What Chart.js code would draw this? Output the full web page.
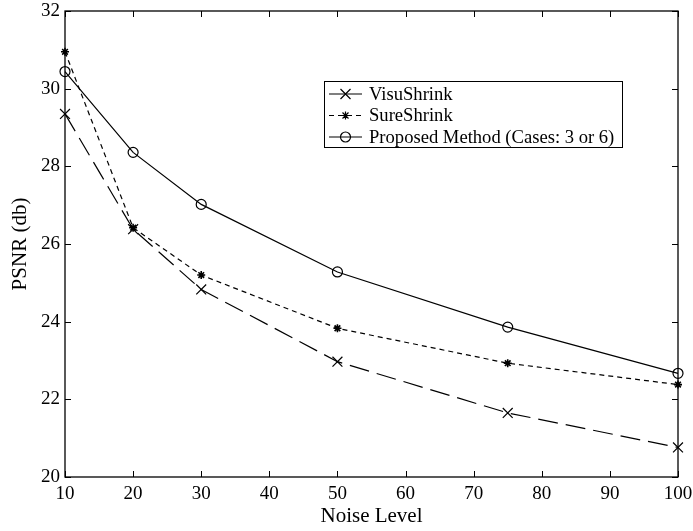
<!DOCTYPE html>
<html>
<head>
<meta charset="utf-8">
<script src="https://cdn.jsdelivr.net/npm/chart.js@4.4.0/dist/chart.umd.min.js"></script>
<style>
  html, body { margin: 0; padding: 0; background: #fff; }
</style>
</head>
<body>
<canvas id="myChart" width="693" height="531"></canvas>
<script>
// du lieu doc tu hinh
const noiseLevels = [10, 20, 30, 50, 75, 100];
const visuShrink = [29.35, 26.38, 24.83, 22.97, 21.65, 20.76];
const sureShrink = [30.95, 26.42, 25.20, 23.83, 22.93, 22.38];
const proposed = [30.44, 28.36, 27.02, 25.28, 23.86, 22.67];
const xTicks = [10, 20, 30, 40, 50, 60, 70, 80, 90, 100];
const yTicks = [20, 22, 24, 26, 28, 30, 32];
const seriesNames = ['VisuShrink', 'SureShrink', 'Proposed Method (Cases: 3 or 6)'];

const FONT = '"Liberation Serif", "Times New Roman", serif';

const toPoints = (ys) => noiseLevels.map((x, i) => ({ x: x, y: ys[i] }));

// ve marker cho legend
const drawMarker = (ctx, style, x, y) => {
    ctx.beginPath();
    if (style === 'crossRot') {
        ctx.moveTo(x - 5, y - 5); ctx.lineTo(x + 5, y + 5);
        ctx.moveTo(x - 5, y + 5); ctx.lineTo(x + 5, y - 5);
    } else if (style === 'star') {
        ctx.moveTo(x - 4, y); ctx.lineTo(x + 4, y);
        ctx.moveTo(x, y - 4); ctx.lineTo(x, y + 4);
        ctx.moveTo(x - 3, y - 3); ctx.lineTo(x + 3, y + 3);
        ctx.moveTo(x - 3, y + 3); ctx.lineTo(x + 3, y - 3);
    } else {
        ctx.arc(x, y, 5, 0, Math.PI * 2);
    }
    ctx.stroke();
};

// khung, vach chia huong vao trong va legend
const boxPlugin = {
    id: 'boxPlugin',
    afterDatasetsDraw(chart) {
        const ctx = chart.ctx;
        const a = chart.chartArea;
        const xs = chart.scales.x, ys = chart.scales.y;
        ctx.save();
        ctx.strokeStyle = '#000';
        ctx.lineWidth = 1.3;
        ctx.strokeRect(a.left, a.top, a.right - a.left, a.bottom - a.top);
        ctx.lineWidth = 1;
        ctx.beginPath();
        xTicks.forEach(v => {
            const px = Math.round(xs.getPixelForValue(v)) + 0.5;
            ctx.moveTo(px, a.bottom); ctx.lineTo(px, a.bottom - 6);
            ctx.moveTo(px, a.top); ctx.lineTo(px, a.top + 6);
        });
        yTicks.forEach(v => {
            const py = Math.round(ys.getPixelForValue(v)) + 0.5;
            ctx.moveTo(a.left, py); ctx.lineTo(a.left + 6, py);
            ctx.moveTo(a.right, py); ctx.lineTo(a.right - 6, py);
        });
        ctx.stroke();

        // legend
        const lx = 324, ly = 81, lw = 298, lh = 66;
        ctx.fillStyle = '#fff';
        ctx.fillRect(lx, ly, lw, lh);
        ctx.lineWidth = 1;
        ctx.strokeRect(lx + 0.5, ly + 0.5, lw, lh);
        const rows = [94, 115.5, 137];
        ctx.font = '18.6px ' + FONT;
        ctx.textBaseline = 'middle';
        chart.data.datasets.forEach((ds, i) => {
            const y = rows[i];
            ctx.strokeStyle = '#000';
            ctx.lineWidth = 1.2;
            const dash = ds.borderDash || [];
            ctx.setLineDash(dash.length && dash[0] < 15 ? dash : []);
            ctx.beginPath();
            ctx.moveTo(329, y); ctx.lineTo(362, y);
            ctx.stroke();
            ctx.setLineDash([]);
            drawMarker(ctx, ds.pointStyle, 345.5, y);
            ctx.fillStyle = '#000';
            ctx.fillText(ds.label, 369, y + 1);
        });
        ctx.restore();
    }
};

const config = {
    type: 'line',
    data: {
        datasets: [
            {
                label: seriesNames[0],
                data: toPoints(visuShrink),
                borderColor: '#000',
                borderWidth: 1.2,
                borderDash: [20, 8],
                pointStyle: 'crossRot',
                pointRadius: 7,
                pointBorderWidth: 1.2,
                pointBorderColor: '#000',
                backgroundColor: '#000',
                tension: 0
            },
            {
                label: seriesNames[1],
                data: toPoints(sureShrink),
                borderColor: '#000',
                borderWidth: 1.2,
                borderDash: [5, 4],
                pointStyle: 'star',
                pointRadius: 4,
                pointBorderWidth: 1.6,
                pointBorderColor: '#000',
                backgroundColor: '#000',
                tension: 0
            },
            {
                label: seriesNames[2],
                data: toPoints(proposed),
                borderColor: '#000',
                borderWidth: 1.2,
                pointStyle: 'circle',
                pointRadius: 5,
                pointBorderWidth: 1.2,
                pointBorderColor: '#000',
                pointBackgroundColor: 'rgba(255,255,255,0)',
                tension: 0
            }
        ]
    },
    options: {
        responsive: false,
        animation: false,
        devicePixelRatio: 1,
        clip: false,
        layout: { padding: { top: 11, right: 15, left: 0, bottom: 0 } },
        plugins: {
            legend: { display: false },
            tooltip: { enabled: false }
        },
        scales: {
            x: {
                type: 'linear',
                min: 10,
                max: 100,
                afterBuildTicks: (s) => { s.ticks = xTicks.map(v => ({ value: v })); },
                afterFit: (s) => { s.height = 54; s.paddingLeft = 0; s.paddingRight = 0; },
                grid: { display: false, drawTicks: false },
                border: { display: false },
                ticks: { color: '#000', font: { family: FONT, size: 19, lineHeight: 1 }, padding: 8, maxRotation: 0 },
                title: { display: true, text: 'Noise Level', color: '#000', font: { family: FONT, size: 21 }, padding: { top: 0, bottom: 2 } }
            },
            y: {
                min: 20,
                max: 32,
                afterBuildTicks: (s) => { s.ticks = yTicks.map(v => ({ value: v })); },
                afterFit: (s) => { s.width = 65; s.paddingTop = 0; s.paddingBottom = 0; },
                grid: { display: false, drawTicks: false },
                border: { display: false },
                ticks: { color: '#000', font: { family: FONT, size: 19, lineHeight: 1 }, padding: 5 },
                title: { display: true, text: 'PSNR (db)', color: '#000', font: { family: FONT, size: 21 }, padding: { top: 8, bottom: 4 } }
            }
        }
    },
    plugins: [boxPlugin]
};

var myChart = new Chart(document.getElementById('myChart'), config);
</script>
</body>
</html>
